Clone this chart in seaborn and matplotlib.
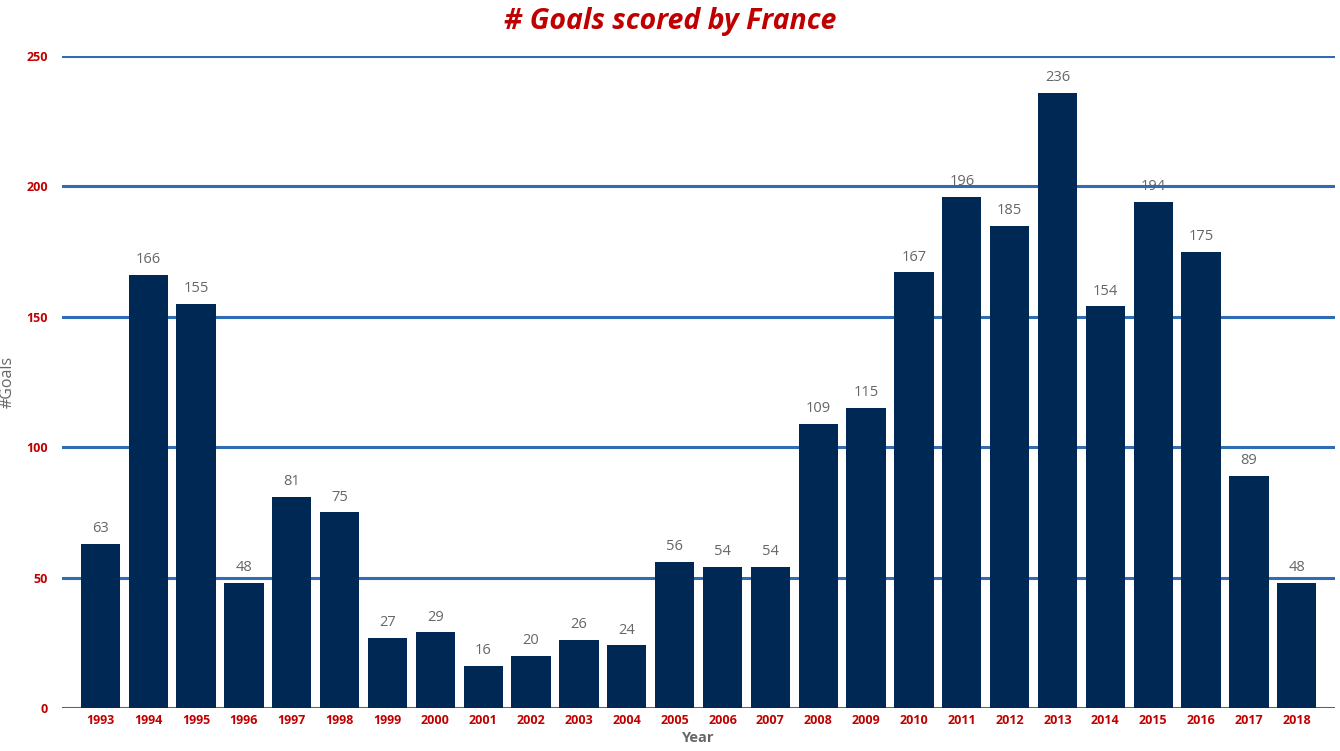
import matplotlib
matplotlib.use("Agg")
import matplotlib.pyplot as plt
import seaborn as sns
import pandas as pd

years = [str(y) for y in range(1993, 2019)]
goals = [63, 166, 155, 48, 81, 75, 27, 29, 16, 20, 26, 24, 56, 54, 54,
         109, 115, 167, 196, 185, 236, 154, 194, 175, 89, 48]
yticks = [0, 50, 100, 150, 200, 250]

df = pd.DataFrame({"Year": years, "Goals": goals})

sns.set_theme(style="white")
plt.rcParams['font.family'] = ['Open Sans', 'DejaVu Sans']

fig = plt.figure(figsize=(13.4, 7.51), dpi=100)
ax = fig.add_axes([0.0463, 0.0573, 0.95, 0.8681])

sns.barplot(data=df, x="Year", y="Goals", color="#002855", saturation=1,
            width=0.82, ax=ax, zorder=3, edgecolor="none")

ax.set_ylim(0, 250)
ax.set_xlim(-0.8, 25.8)
ax.set_yticks(yticks)
for y in yticks:
    ax.axhline(y, color="#2E6DB4", lw=2.2, zorder=2)

for i, v in enumerate(goals):
    ax.text(i, v + 3, str(v), ha="center", va="bottom", fontsize=10.5,
            color="#666666", zorder=1)

for s in ax.spines.values():
    s.set_visible(False)
ax.tick_params(axis="both", length=0, pad=4)
for lab in ax.get_xticklabels() + ax.get_yticklabels():
    lab.set_color("#C00000")
    lab.set_fontweight("bold")
    lab.set_fontsize(9)
ax.tick_params(axis="y", pad=10)

ax.set_xlabel("Year", fontsize=10.5, color="#666666", fontweight="bold", labelpad=3)
ax.set_ylabel("#Goals", fontsize=11.5, color="#666666", labelpad=8)

fig.text(0.5, 0.972, "# Goals scored by France", ha="center", va="center",
         fontsize=20.5, fontweight="bold", fontstyle="italic", color="#C00000")

fig.savefig("out.png", dpi=100, facecolor="white")
